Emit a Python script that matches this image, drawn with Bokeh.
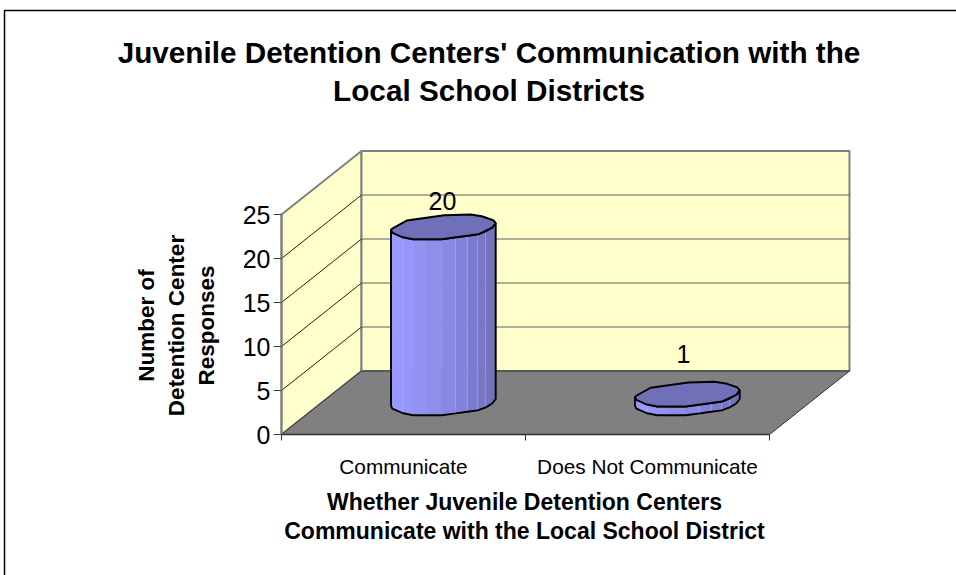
import numpy as np
from bokeh.core.properties import value
from bokeh.embed import file_html
from bokeh.models import BoxAnnotation, FixedTicker, Label, LinearAxis
from bokeh.plotting import figure
from bokeh.resources import INLINE

categories = ["Communicate", "Does Not Communicate"]
responses = [20, 1]
value_ticks = [0, 5, 10, 15, 20, 25]
title_lines = ["Juvenile Detention Centers' Communication with the", "Local School Districts"]
x_title_lines = ["Whether Juvenile Detention Centers", "Communicate with the Local School District"]
y_title_lines = ["Number of", "Detention Center", "Responses"]

FONT = "Liberation Sans"
W, H = 956, 575
ORIGIN_X, ORIGIN_Y = 281, 434
PX_PER_CATEGORY = 244.0
PX_PER_VALUE = 8.8
DEPTH_X = 80.0 / PX_PER_CATEGORY
DEPTH_Y = 63.5 / PX_PER_VALUE
MAX_VALUE = value_ticks[-1]
N_CAT = len(categories)

WALL = "#FFFFCC"
FLOOR = "#808080"
TOP_FILL = "#7070B8"

# Octagonal-looking cylinder section, as pixel offsets from the column axis.
SECTION = [(-52.5, 2.8), (-49.5, 0.8), (-36.8, -6.2), (0.8, -11.5), (27.2, -12.2), (38.2, -10.5),
           (49.8, -6.5), (52.2, -3.8), (48.8, 0.8), (34.8, 7.5), (-1.8, 12.5), (-30.2, 12.5),
           (-41.8, 10.2), (-51.2, 5.8)]
# Front edge of the section, left to right, split into the shaded column facets.
FACET_EDGE = [(-52.5, 2.8), (-51.2, 5.8), (-40.5, 10.5), (-30.2, 12.5), (-17.5, 12.5), (-1.8, 12.5),
              (12.2, 10.6), (23.8, 9.0), (34.2, 7.6), (42.2, 4.6), (48.8, 0.8), (52.2, -3.8)]
FACET_COLORS = ["#9898FC", "#9999FF", "#9696F9", "#9292F2", "#8E8EEB", "#8989E3",
                "#8282D8", "#7C7CCE", "#7777C6", "#7373BF", "#7070B8"]
SEAM_INDEX = [2, 6, 7, 8, 9]

# The frame fills the page; both axes are pinned at the chart's data origin.
p = figure(width=W, height=H,
           x_range=(-ORIGIN_X / PX_PER_CATEGORY, (W - ORIGIN_X) / PX_PER_CATEGORY),
           y_range=(-(H - ORIGIN_Y) / PX_PER_VALUE, ORIGIN_Y / PX_PER_VALUE),
           output_backend="svg", toolbar_location=None, min_border=0,
           x_axis_type=None, y_axis_type=None, background_fill_color="white",
           border_fill_color="white", outline_line_color=None)
p.grid.visible = False

# Side wall, back wall and floor of the 3D box.
p.patch([0, DEPTH_X, DEPTH_X, 0], [0, DEPTH_Y, DEPTH_Y + MAX_VALUE, MAX_VALUE],
        fill_color=WALL, line_color=FLOOR, line_width=2)
p.patch([DEPTH_X, N_CAT + DEPTH_X, N_CAT + DEPTH_X, DEPTH_X],
        [DEPTH_Y, DEPTH_Y, DEPTH_Y + MAX_VALUE, DEPTH_Y + MAX_VALUE],
        fill_color=WALL, line_color=FLOOR, line_width=2)
p.patch([0, N_CAT, N_CAT + DEPTH_X, DEPTH_X], [0, 0, DEPTH_Y, DEPTH_Y],
        fill_color=FLOOR, line_color="#303030", line_width=1)

# Gridlines run along the side wall and across the back wall.
levels = value_ticks[1:-1]
p.multi_line([[0, DEPTH_X] for _ in levels], [[v, v + DEPTH_Y] for v in levels],
             line_color="#202020", line_width=1)
p.multi_line([[DEPTH_X, N_CAT + DEPTH_X] for _ in levels],
             [[v + DEPTH_Y, v + DEPTH_Y] for v in levels], line_color="#606060", line_width=1.2)


def section_xy(points, cx, level):
    xs = [cx + dx / PX_PER_CATEGORY for dx, _ in points]
    ys = [level - dy / PX_PER_VALUE for _, dy in points]
    return xs, ys


# Columns stand on the middle of the floor, half a category deep.
for i, v in enumerate(responses):
    cx = i + 0.5 + DEPTH_X / 2
    base_y = DEPTH_Y / 2
    top_y = base_y + v
    ex, ey = section_xy(FACET_EDGE, cx, 0)
    strips_x, strips_y = [], []
    for k in range(len(FACET_COLORS)):
        strips_x.append([ex[k], ex[k + 1], ex[k + 1], ex[k]])
        strips_y.append([top_y + ey[k], top_y + ey[k + 1], base_y + ey[k + 1], base_y + ey[k]])
    p.patches(strips_x, strips_y, fill_color=FACET_COLORS, line_color=FACET_COLORS, line_width=0.5)
    p.multi_line([[ex[k], ex[k]] for k in SEAM_INDEX],
                 [[top_y + ey[k], base_y + ey[k]] for k in SEAM_INDEX],
                 line_color="#B4B4FF", line_width=0.7, line_alpha=0.8)
    p.patch(ex + ex[::-1], [base_y + y for y in ey] + [top_y + y for y in ey[::-1]],
            fill_color=None, line_color="black", line_width=1.9)
    sx, sy = section_xy(SECTION, cx, top_y)
    p.patch(sx, sy, fill_color=TOP_FILL, line_color="black", line_width=1.9)

# Value labels above each column.
label_raise = [25.5, 40.0]
p.text(x=[i + 0.5 + DEPTH_X / 2 for i in range(N_CAT)],
       y=[DEPTH_Y / 2 + v for v in responses],
       text=[str(v) for v in responses],
       y_offset=[-r for r in label_raise],
       x_offset=[-1, -4],
       text_align="center", text_baseline="middle", text_color="black",
       text_font=value(FONT), text_font_size="25px")

y_axis = LinearAxis(ticker=FixedTicker(ticks=value_ticks), bounds=(0, MAX_VALUE), fixed_location=0)
y_axis.axis_line_color = FLOOR
y_axis.axis_line_width = 2
y_axis.major_tick_line_color = "#404040"
y_axis.major_tick_out = 8
y_axis.major_tick_in = 0
y_axis.minor_tick_out = 0
y_axis.minor_tick_in = 0
y_axis.major_label_standoff = 3
y_axis.major_label_text_font = FONT
y_axis.major_label_text_font_size = "25px"
y_axis.major_label_text_color = "black"
p.add_layout(y_axis, "left")

# Category names sit mid-slot; the tick marks fall on the slot boundaries.
centres = [i + 0.5 for i in range(N_CAT)]
x_axis = LinearAxis(ticker=FixedTicker(ticks=centres, minor_ticks=list(range(N_CAT + 1))),
                    bounds=(0, N_CAT), fixed_location=0)
x_axis.major_label_overrides = {c: n for c, n in zip(centres, categories)}
x_axis.axis_line_color = "#303030"
x_axis.axis_line_width = 1.5
x_axis.major_tick_out = 0
x_axis.major_tick_in = 0
x_axis.minor_tick_out = 6
x_axis.minor_tick_in = 0
x_axis.minor_tick_line_color = "#303030"
x_axis.major_label_standoff = 14
x_axis.major_label_text_font = FONT
x_axis.major_label_text_font_size = "20.8px"
x_axis.major_label_text_color = "black"
p.add_layout(x_axis, "below")


def caption(text, x, y, size, angle=0.0):
    p.add_layout(Label(x=x, y=H - y, x_units="screen", y_units="screen", text=text,
                       text_align="center", text_baseline="middle", text_font=FONT,
                       text_font_size=size, text_font_style="bold", text_color="black",
                       angle=angle))


for text, y in zip(title_lines, [52, 90]):
    caption(text, 488.5, y, "29.7px")
for text, y in zip(x_title_lines, [501.7, 530.7]):
    caption(text, 524, y, "23px")
for text, x in zip(y_title_lines, [146, 176, 206]):
    caption(text, x, 325, "22.5px", angle=np.pi / 2)

# Chart-area border: only its left and top edges fall inside the page.
p.add_layout(BoxAnnotation(left=4, right=W + 40, top=H - 10, bottom=-40, left_units="screen",
                           right_units="screen", top_units="screen", bottom_units="screen",
                           fill_color=None, fill_alpha=0, line_color="black", line_alpha=1,
                           line_width=1.5))

open("out.html", "w").write(file_html(p, INLINE))
